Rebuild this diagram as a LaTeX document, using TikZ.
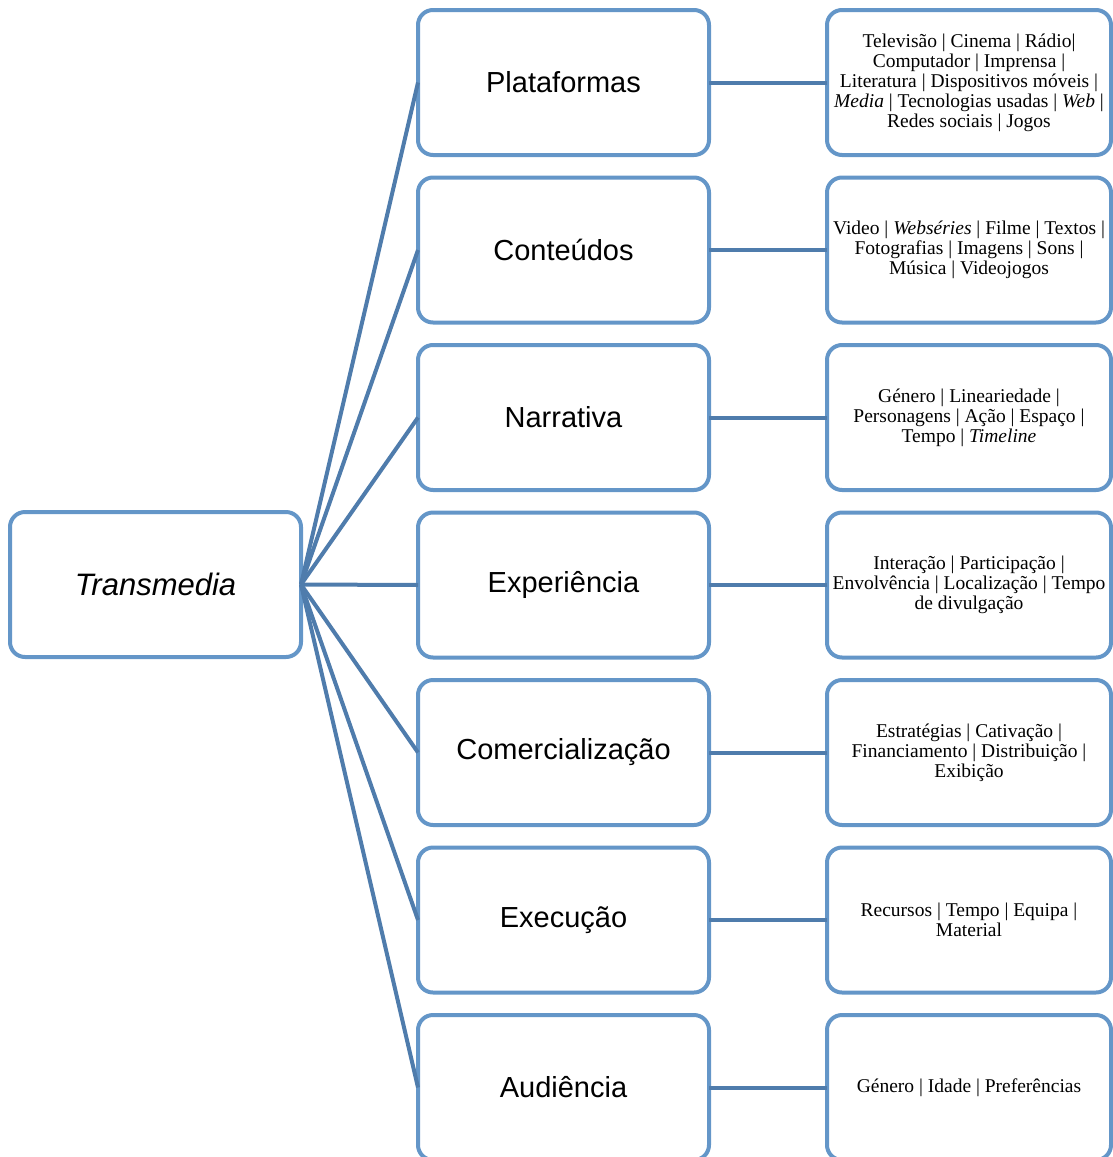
\documentclass[tikz,border=0pt]{standalone}
\usepackage{fontspec}
\setmainfont{Liberation Serif}
\newfontfamily\boxsans{Liberation Sans}
\definecolor{boxblue}{HTML}{6496C8}
\definecolor{linkblue}{HTML}{4F7CAC}
\begin{document}
\begin{tikzpicture}[x=1pt,y=-1pt,
  card/.style={draw=boxblue, line width=4pt, rounded corners=15pt, fill=white,
    outer sep=0pt, inner sep=0pt, align=center},
  hub/.style={card, minimum width=291pt, minimum height=145pt,
    font=\boxsans\fontsize{31}{35}\selectfont},
  topic/.style={card, minimum width=291pt, minimum height=145pt,
    font=\boxsans\fontsize{29}{33}\selectfont},
  detail/.style={card, minimum width=284pt, minimum height=145pt,
    font=\fontsize{19.5}{20}\selectfont},
  link/.style={draw=linkblue, line width=4pt}]
\useasboundingbox (0,0) rectangle (1113,1157);

% central concept
\node[hub] (hub) at (155.5,584.5) {\itshape Transmedia};

% dimensions
\node[topic] (t1) at (563.5,82.5)  {Plataformas};
\node[topic] (t2) at (563.5,250)   {Conteúdos};
\node[topic] (t3) at (563.5,417.5) {Narrativa};
\node[topic] (t4) at (563.5,585)   {Experiência};
\node[topic] (t5) at (563.5,752.5) {Comercialização};
\node[topic] (t6) at (563.5,920)   {Execução};
\node[topic] (t7) at (563.5,1087.5){Audiência};

% details of each dimension
\node[detail] (d1) at (969,82.5) {Televisão | Cinema | Rádio|\\ Computador | Imprensa |\\ Literatura | Dispositivos móveis |\\ \textit{Media} | Tecnologias usadas | \textit{Web} |\\ Redes sociais | Jogos};
\node[detail] (d2) at (969,250) {Video | \textit{Webséries} | Filme | Textos |\\ Fotografias | Imagens | Sons |\\ Música | Videojogos};
\node[detail] (d3) at (969,417.5) {Género | Lineariedade |\\ Personagens | Ação | Espaço |\\ Tempo | \textit{Timeline}};
\node[detail] (d4) at (969,585) {Interação | Participação |\\ Envolvência | Localização | Tempo\\ de divulgação};
\node[detail] (d5) at (969,752.5) {Estratégias | Cativação |\\ Financiamento | Distribuição |\\ Exibição};
\node[detail] (d6) at (969,920) {Recursos | Tempo | Equipa |\\ Material};
\node[detail] (d7) at (969,1087.5) {Género | Idade | Preferências};

% connectors
\foreach \i in {1,...,7}{
  \draw[link] (hub.east) -- (t\i.west);
  \draw[link] (t\i.east) -- (d\i.west);
}
\end{tikzpicture}
\end{document}
